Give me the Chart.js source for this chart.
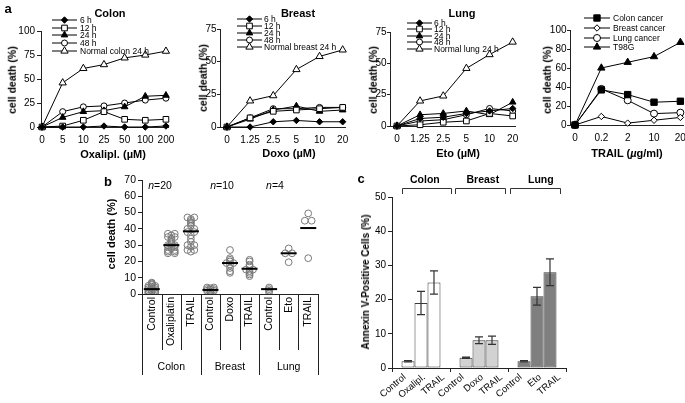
<!DOCTYPE html>
<html><head><meta charset="utf-8"><title>cell death figure</title>
<script src="https://cdn.jsdelivr.net/npm/chart.js@4.4.1/dist/chart.umd.min.js"></script>
<style>
html,body{margin:0;padding:0;background:#fff;}
body{position:relative;width:685px;height:403px;overflow:hidden;font-family:'Liberation Sans',Arial,Helvetica,sans-serif;color:#000;}
canvas{position:absolute;}
.t{position:absolute;white-space:nowrap;line-height:1;transform:translate(-50%,-50%);}
.b{font-weight:bold;}
.r{transform:translate(-50%,-50%) rotate(-90deg);}
</style></head><body>
<canvas id="cColon" width="190" height="170" style="left:0;top:0"></canvas>
<canvas id="cBreast" width="195" height="170" style="left:175px;top:0"></canvas>
<canvas id="cLung" width="195" height="170" style="left:345px;top:0"></canvas>
<canvas id="cTrail" width="185" height="170" style="left:520px;top:0"></canvas>
<canvas id="cStrip" width="230" height="233" style="left:100px;top:170px"></canvas>
<canvas id="cBar" width="212" height="233" style="left:360px;top:170px"></canvas>

<div class="t b" style="left:8px;top:8px;font-size:13px">a</div>
<div class="t b" style="left:110px;top:13px;font-size:11px">Colon</div>
<div class="t b" style="left:298px;top:13px;font-size:11px">Breast</div>
<div class="t b" style="left:462px;top:13px;font-size:11px">Lung</div>
<div class="t b r" style="left:12px;top:80px;font-size:10.5px">cell death (%)</div>
<div class="t b r" style="left:203px;top:78px;font-size:10.5px">cell death (%)</div>
<div class="t b r" style="left:373px;top:80px;font-size:10.5px">cell death (%)</div>
<div class="t b r" style="left:547px;top:80px;font-size:10.5px">cell death (%)</div>
<div class="t b" style="left:113px;top:154px;font-size:11px">Oxalipl. (µM)</div>
<div class="t b" style="left:289px;top:153px;font-size:11px">Doxo (µM)</div>
<div class="t b" style="left:458px;top:153px;font-size:11px">Eto (µM)</div>
<div class="t b" style="left:627px;top:153px;font-size:11px">TRAIL (<i>µ</i>g/ml)</div>

<div class="t b" style="left:108px;top:181px;font-size:13px">b</div>
<div class="t b r" style="left:111px;top:234px;font-size:11px">cell death (%)</div>
<div class="t" style="left:160px;top:185px;font-size:10.5px"><i>n</i>=20</div>
<div class="t" style="left:222px;top:185px;font-size:10.5px"><i>n</i>=10</div>
<div class="t" style="left:275px;top:185px;font-size:10.5px"><i>n</i>=4</div>

<div class="t b" style="left:361px;top:178px;font-size:13px">c</div>
<div class="t b r" style="left:366px;top:282px;font-size:10px">Annexin V-Positive Cells (%)</div>

<script>
// ---------- DATA ----------
// Panel a: Colon (Oxaliplatin)
const doseColon = ['0','5','10','25','50','100','200'];
const colon6h = [0,0,0,1,0,0,1];
const colon12h = [0,1,7,16,8,7,8];
const colon24h = [0,10,16,17,21,32,33];
const colon48h = [0,16,21,22,25,28,30];
const colonNormal = [0,46,61,65,72,75,79];
// Panel a: Breast (Doxo)
const doseBreast = ['0','1.25','2.5','5','10','20'];
const breast6h = [0,0,4,5,4,4];
const breast12h = [0,7,12,13,14,15];
const breast24h = [0,6,13,16,12,13];
const breast48h = [0,7,14,14,15,15];
const breastNormal = [0,20,24,44,54,59];
// Panel a: Lung (Eto)
const doseLung = ['0','1.25','2.5','5','10','20'];
const lung6h = [0,6,7,10,12,14];
const lung12h = [0,1,3,4,10,8];
const lung24h = [0,9,10,12,9,19];
const lung48h = [0,4,5,9,14,12];
const lungNormal = [0,20,24,46,57,67];
// Panel a: TRAIL
const doseTrail = ['0','0.2','2','10','20'];
const trailColon = [0,37,32,24,25];
const trailBreast = [0,9,2,5,8];
const trailLung = [0,38,26,12,13];
const trailT98G = [0,60,66,72,87];

// Panel b: strip plot
const stripCats = ['Control','Oxaliplatin','TRAIL','Control','Doxo','TRAIL','Control','Eto','TRAIL'];
const stripGroups = ['Colon','Breast','Lung'];
const colonControl = [0.5,1,1,1.5,2,2,2.5,3,3,3.5,4,4,4.5,5,5,5.5,6,6.5,7,0.5];
const colonOxali = [25,25,26,26,27,27,28,29,29,30,30,31,32,33,34,35,35,36,37,37];
const colonTrail = [26,27,27,29,30,30,32,34,36,38,38,40,40,42,43,44,45,46,47,47];
const breastControl = [1,1.5,2,2,2.5,3,3,3.5,4,4];
const breastDoxo = [13,14,16,18,19,19,20,21,22,27];
const breastTrail = [11,12,13,14,15,15,17,18,20,21];
const lungControl = [1,2,3,4];
const lungEto = [19.5,25,25,28];
const lungTrail = [22,45,45,49.5];
const stripMeans = [3,30,38.5,2.5,19,15.5,3,25,40.5];

// Panel c: Annexin V bars
const annexGroups = ['Colon','Breast','Lung'];
const annexDrugNames = ['Oxalipl.','Doxo','Eto'];
const annexControl = [2,3,2];
const annexControlErr = [0.2,0.2,0.2];
const annexDrug = [19,8.1,21];
const annexDrugErr = [3.4,1.0,2.6];
const annexTrail = [25,8.1,28];
const annexTrailErr = [3.4,1.2,3.9];

// ---------- STYLE / DRAWING ----------
const FONT = "'Liberation Sans', Arial, Helvetica, sans-serif";
Chart.defaults.font.family = FONT;
Chart.defaults.color = '#000';
const AX = '#222';

function legendPlugin(cfg) {
  return {
    id: 'inlineLegend',
    afterDatasetsDraw(chart) {
      const ctx = chart.ctx;
      ctx.save();
      chart.data.datasets.forEach((ds, i) => {
        const y = cfg.rows[i];
        ctx.strokeStyle = '#000'; ctx.lineWidth = 1;
        ctx.beginPath(); ctx.moveTo(cfg.x0, y); ctx.lineTo(cfg.x1, y); ctx.stroke();
        ctx.fillStyle = ds.pointBackgroundColor; ctx.strokeStyle = '#000'; ctx.lineWidth = 1;
        Chart.helpers.drawPoint(ctx, {pointStyle: ds.pointStyle, radius: ds.pointRadius, borderWidth: 1, rotation: 0}, (cfg.x0 + cfg.x1) / 2, y);
        ctx.fillStyle = '#000'; ctx.font = cfg.size + 'px ' + FONT;
        ctx.textAlign = 'left'; ctx.textBaseline = 'middle';
        ctx.fillText(ds.label, cfg.tx, y + 0.5);
      });
      ctx.restore();
    }
  };
}

function series(label, values, style, r, fill) { return {label, values, style, r, fill}; }

function makeLine(id, o) {
  return new Chart(document.getElementById(id), {
    type: 'line',
    data: {datasets: o.series.map(s => ({
      label: s.label,
      data: s.values.map((v, i) => ({x: i, y: v})),
      borderColor: '#000', borderWidth: 1,
      pointStyle: s.style, pointRadius: s.r,
      pointBackgroundColor: s.fill, pointBorderColor: '#000', pointBorderWidth: 1,
      tension: 0, clip: false
    }))},
    options: {
      responsive: false, animation: false, devicePixelRatio: 1,
      layout: {padding: {left: 0, top: o.area.t, right: o.area.w - o.area.r, bottom: 0}},
      plugins: {legend: {display: false}, tooltip: {enabled: false}},
      scales: {
        x: {
          type: 'linear', min: o.xMin, max: o.xMax,
          afterBuildTicks: s => { s.ticks = o.labels.map((_, i) => ({value: i})); },
          afterFit: s => { s.height = o.area.h - o.area.b; s.paddingLeft = 0; s.paddingRight = 0; },
          ticks: {callback: v => o.labels[v], font: {size: 10}, padding: 7, maxRotation: 0, minRotation: 0, autoSkip: false},
          grid: {display: false, drawTicks: false},
          border: {display: true, color: AX, width: 1}
        },
        y: {
          min: 0, max: o.yMax,
          afterFit: s => { s.width = o.area.l; s.paddingTop = 0; s.paddingBottom = 0; },
          ticks: {stepSize: o.yStep, font: {size: 10}, padding: o.pad},
          grid: {drawOnChartArea: false, tickLength: o.tl, color: AX},
          border: {color: AX, width: 1}
        }
      }
    },
    plugins: [legendPlugin(o.legend)]
  });
}

const W = '#ffffff', K = '#000000';
makeLine('cColon', {
  labels: doseColon, yMax: 100, yStep: 25, xMin: -0.05, xMax: 6.1, tl: 4, pad: 2,
  area: {w: 190, h: 170, l: 41, t: 31, r: 168, b: 127},
  series: [
    series('6 h', colon6h, 'rectRot', 3.2, K),
    series('12 h', colon12h, 'rect', 4, W),
    series('24 h', colon24h, 'triangle', 3.8, K),
    series('48 h', colon48h, 'circle', 3, W),
    series('Normal colon 24 h', colonNormal, 'triangle', 4.2, W)
  ],
  legend: {rows: [20, 28, 35, 43, 51], x0: 52, x1: 77, tx: 80, size: 8.5}
});
makeLine('cBreast', {
  labels: doseBreast, yMax: 75, yStep: 25, xMin: -0.3, xMax: 5.1, tl: 3, pad: 0.5,
  area: {w: 195, h: 170, l: 45, t: 29, r: 170, b: 127},
  series: [
    series('6 h', breast6h, 'rectRot', 3.2, K),
    series('12 h', breast12h, 'rect', 4, W),
    series('24 h', breast24h, 'triangle', 3.8, K),
    series('48 h', breast48h, 'circle', 3, W),
    series('Normal breast 24 h', breastNormal, 'triangle', 4.2, W)
  ],
  legend: {rows: [19, 26, 33, 40, 47], x0: 62, x1: 87, tx: 89, size: 8.5}
});
makeLine('cLung', {
  labels: doseLung, yMax: 75, yStep: 25, xMin: -0.3, xMax: 5.1, tl: 3, pad: 0.5,
  area: {w: 195, h: 170, l: 45, t: 32, r: 170, b: 126},
  series: [
    series('6 h', lung6h, 'rectRot', 3.2, K),
    series('12 h', lung12h, 'rect', 4, W),
    series('24 h', lung24h, 'triangle', 3.8, K),
    series('48 h', lung48h, 'circle', 3, W),
    series('Normal lung 24 h', lungNormal, 'triangle', 4.2, W)
  ],
  legend: {rows: [23, 29, 36, 42, 49], x0: 62, x1: 87, tx: 89, size: 8.5}
});
makeLine('cTrail', {
  labels: doseTrail, yMax: 100, yStep: 20, xMin: -0.19, xMax: 4.1, tl: 3, pad: 0.5,
  area: {w: 185, h: 170, l: 50, t: 30, r: 163, b: 125},
  series: [
    series('Colon cancer', trailColon, 'rect', 4.5, K),
    series('Breast cancer', trailBreast, 'rectRot', 3.2, W),
    series('Lung cancer', trailLung, 'circle', 3.5, W),
    series('T98G', trailT98G, 'triangle', 4.2, K)
  ],
  legend: {rows: [18, 28, 38, 47], x0: 64, x1: 90, tx: 93, size: 8.5}
});

// ---------- Panel b ----------
function jitterX(cat, vals) {
  const counts = {}, seen = {};
  vals.forEach(v => { counts[v] = (counts[v] || 0) + 1; });
  return vals.map(v => {
    const k = seen[v] = (seen[v] || 0) + 1;
    return {x: cat + ((k - 1) - (counts[v] - 1) / 2) * 0.35, y: v};
  });
}
const stripValues = [colonControl, colonOxali, colonTrail, breastControl, breastDoxo, breastTrail, lungControl, lungEto, lungTrail];
const stripPoints = stripValues.flatMap((vals, c) => jitterX(c, vals));

const stripAxis = {
  id: 'stripAxis',
  afterDraw(chart) {
    const ctx = chart.ctx, xs = chart.scales.x, a = chart.chartArea;
    ctx.save();
    ctx.strokeStyle = AX; ctx.lineWidth = 1;
    for (let i = 0; i <= stripCats.length; i++) {
      const x = Math.round(xs.getPixelForValue(i - 0.5)) + 0.5;
      const len = (i % 3 === 0) ? 81 : 56;
      ctx.beginPath(); ctx.moveTo(x, a.bottom); ctx.lineTo(x, a.bottom + len); ctx.stroke();
    }
    ctx.fillStyle = '#000'; ctx.font = '10.5px ' + FONT;
    ctx.textAlign = 'right'; ctx.textBaseline = 'middle';
    stripCats.forEach((c, i) => {
      ctx.save();
      ctx.translate(xs.getPixelForValue(i), a.bottom + 3);
      ctx.rotate(-Math.PI / 2);
      ctx.fillText(c, 0, 0);
      ctx.restore();
    });
    ctx.textAlign = 'center';
    stripGroups.forEach((g, k) => ctx.fillText(g, xs.getPixelForValue(k * 3 + 1), a.bottom + 73));
    ctx.restore();
  }
};

new Chart(document.getElementById('cStrip'), {
  type: 'scatter',
  data: {datasets: [
    {label: 'mean', data: stripMeans.map((m, i) => ({x: i, y: m})),
     pointStyle: 'line', pointRadius: 8, pointBorderColor: '#000', pointBorderWidth: 2, pointBackgroundColor: '#000'},
    {label: 'samples', data: stripPoints,
     pointStyle: 'circle', pointRadius: 3.4, pointBorderColor: '#7a7a7a', pointBorderWidth: 1, pointBackgroundColor: 'rgba(255,255,255,0)'}
  ]},
  options: {
    responsive: false, animation: false, devicePixelRatio: 1,
    layout: {padding: {left: 0, top: 7, right: 12, bottom: 0}},
    plugins: {legend: {display: false}, tooltip: {enabled: false}},
    scales: {
      x: {type: 'linear', min: -0.5, max: 8.5,
          afterFit: s => { s.height = 109; s.paddingLeft = 0; s.paddingRight = 0; },
          ticks: {display: false}, grid: {display: false, drawTicks: false}, border: {display: true, color: AX}},
      y: {min: 0, max: 70,
          afterFit: s => { s.width = 42; s.paddingTop = 0; s.paddingBottom = 0; },
          ticks: {stepSize: 10, font: {size: 10.5}, padding: 2},
          grid: {drawOnChartArea: false, tickLength: 4, color: AX}, border: {color: AX}}
    }
  },
  plugins: [stripAxis]
});

// ---------- Panel c ----------
const groupFills = ['#ffffff', '#d2d2d2', '#7f7f7f'];
const barDecor = {
  id: 'barDecor',
  afterDatasetsDraw(chart) {
    const ctx = chart.ctx, ys = chart.scales.y;
    ctx.save(); ctx.strokeStyle = '#333'; ctx.lineWidth = 1.2;
    chart.data.datasets.forEach((ds, di) => {
      chart.getDatasetMeta(di).data.forEach((bar, i) => {
        const v = ds.data[i], e = ds.errors[i];
        const x = bar.x, yt = ys.getPixelForValue(v + e), yb = ys.getPixelForValue(v - e);
        ctx.beginPath();
        ctx.moveTo(x, yt); ctx.lineTo(x, yb);
        ctx.moveTo(x - 4, yt); ctx.lineTo(x + 4, yt);
        ctx.moveTo(x - 4, yb); ctx.lineTo(x + 4, yb);
        ctx.stroke();
      });
    });
    ctx.restore();
  },
  afterDraw(chart) {
    const ctx = chart.ctx, a = chart.chartArea;
    const slot = (a.right - a.left) / 9;
    ctx.save();
    ctx.fillStyle = '#000'; ctx.font = '9.5px ' + FONT;
    ctx.textAlign = 'right'; ctx.textBaseline = 'middle';
    const names = annexDrugNames.flatMap(d => ['Control', d, 'TRAIL']);
    names.forEach((n, i) => {
      ctx.save();
      ctx.translate(a.left + (i + 0.5) * slot + 3, a.bottom + 8);
      ctx.rotate(-40 * Math.PI / 180);
      ctx.fillText(n, 0, 0);
      ctx.restore();
    });
    // group brackets
    const spans = [[0.52, 3.05], [3.26, 5.85], [6.1, 8.7]];
    const yb = a.top - 9;
    ctx.strokeStyle = '#333'; ctx.lineWidth = 1;
    spans.forEach(([s, e]) => {
      const x0 = Math.round(a.left + s * slot) + 0.5, x1 = Math.round(a.left + e * slot) + 0.5;
      ctx.beginPath();
      ctx.moveTo(x0, yb + 6); ctx.lineTo(x0, yb + 0.5); ctx.lineTo(x1, yb + 0.5); ctx.lineTo(x1, yb + 6);
      ctx.stroke();
    });
    ctx.font = 'bold 10.5px ' + FONT; ctx.textAlign = 'center';
    annexGroups.forEach((g, k) => ctx.fillText(g, a.left + (k * 3 + 1.7) * slot, a.top - 17));
    ctx.restore();
  }
};

new Chart(document.getElementById('cBar'), {
  type: 'bar',
  data: {labels: annexGroups, datasets: [
    {label: 'Control', data: annexControl, errors: annexControlErr},
    {label: 'Drug', data: annexDrug, errors: annexDrugErr},
    {label: 'TRAIL', data: annexTrail, errors: annexTrailErr}
  ].map(d => Object.assign(d, {backgroundColor: groupFills, borderColor: '#3a3a3a', borderWidth: 1,
      borderSkipped: false, categoryPercentage: 0.672, barPercentage: 1}))},
  options: {
    responsive: false, animation: false, devicePixelRatio: 1,
    layout: {padding: {left: 0, top: 27, right: 6, bottom: 0}},
    plugins: {legend: {display: false}, tooltip: {enabled: false}},
    scales: {
      x: {afterFit: s => { s.height = 35; s.paddingLeft = 0; s.paddingRight = 0; },
          ticks: {display: false},
          grid: {display: true, drawOnChartArea: false, tickLength: 4, offset: true, color: AX},
          border: {color: AX}},
      y: {min: 0, max: 50,
          afterFit: s => { s.width = 32; s.paddingTop = 0; s.paddingBottom = 0; },
          ticks: {stepSize: 10, font: {size: 10}, padding: 2},
          grid: {drawOnChartArea: false, tickLength: 4, color: AX}, border: {color: AX}}
    }
  },
  plugins: [barDecor]
});
</script>
</body></html>
